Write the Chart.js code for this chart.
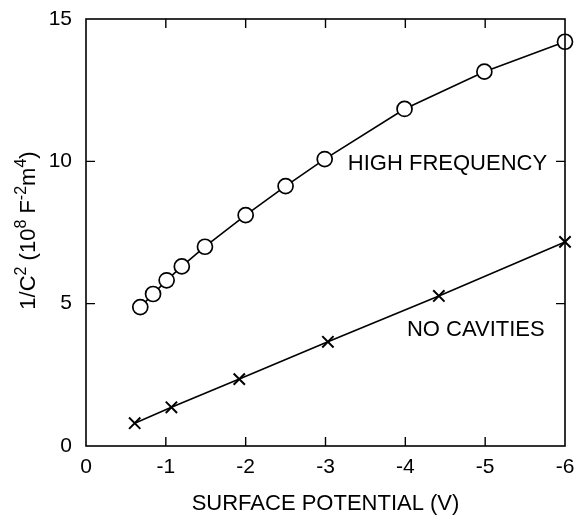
<!DOCTYPE html>
<html>
<head>
<meta charset="utf-8">
<script src="https://cdn.jsdelivr.net/npm/chart.js@4.4.0/dist/chart.umd.min.js"></script>
<style>
html,body{margin:0;padding:0;background:#fff;}
#wrap{width:575px;height:518px;position:relative;}
</style>
</head>
<body>
<div id="wrap"><canvas id="c"></canvas></div>
<script>
// ---- data ----
const hfX = [-0.68, -0.84, -1.01, -1.20, -1.49, -2.00, -2.50, -2.99, -3.99, -4.99, -6.00];
const hfY = [4.88, 5.34, 5.82, 6.31, 7.00, 8.11, 9.13, 10.08, 11.84, 13.15, 14.20];
const ncX = [-0.61, -1.07, -1.92, -3.03, -4.42, -6.00];
const ncY = [0.80, 1.36, 2.35, 3.66, 5.27, 7.17];
const xTicks = [0, -1, -2, -3, -4, -5, -6];
const yTicks = [0, 5, 10, 15];
const seriesNames = ['HIGH FREQUENCY', 'NO CAVITIES'];
const xTitle = 'SURFACE POTENTIAL (V)';
// y title parts: [text, isSuperscript]
const yTitleParts = [['1/C', false], ['2', true], [' (10', false], ['8', true], [' F', false], ['-2', true], ['m', false], ['4', true], [')', false]];
// label anchors in data coordinates (left edge, vertical middle)
const labelAnchors = [[-3.28, 9.92], [-4.02, 4.09]];

const FONT = "'Liberation Sans', Arial, Helvetica, sans-serif";

function pts(xs, ys){ return xs.map((x,i)=>({x:x, y:ys[i]})); }
function noPad(s){ s.paddingLeft = 0; s.paddingRight = 0; s.paddingTop = 0; s.paddingBottom = 0; }

const framePlugin = {
  id: 'frame',
  afterDatasetsDraw(chart){
    const {ctx, chartArea:a, scales:{x, y}} = chart;
    ctx.save();
    ctx.strokeStyle = '#000';
    ctx.lineWidth = 1.6;
    ctx.strokeRect(a.left, a.top, a.right - a.left, a.bottom - a.top);
    const tl = 9;
    ctx.lineWidth = 1.4;
    ctx.beginPath();
    xTicks.forEach(v=>{
      if (v === 0 || v === -6) return;
      const px = x.getPixelForValue(v);
      ctx.moveTo(px, a.bottom); ctx.lineTo(px, a.bottom - tl);
      ctx.moveTo(px, a.top); ctx.lineTo(px, a.top + tl);
    });
    yTicks.forEach(v=>{
      if (v === 0 || v === 15) return;
      const py = y.getPixelForValue(v);
      ctx.moveTo(a.left, py); ctx.lineTo(a.left + tl, py);
      ctx.moveTo(a.right, py); ctx.lineTo(a.right - tl, py);
    });
    ctx.stroke();
    ctx.restore();
  },
  afterDraw(chart){
    const {ctx, chartArea:a, scales:{x, y}} = chart;
    ctx.save();
    ctx.fillStyle = '#000';
    // series labels
    ctx.font = '22px ' + FONT;
    ctx.textBaseline = 'middle';
    ctx.textAlign = 'left';
    seriesNames.forEach((n,i)=>{
      ctx.fillText(n, x.getPixelForValue(labelAnchors[i][0]), y.getPixelForValue(labelAnchors[i][1]));
    });
    // y axis title with superscripts
    const mainF = '22px ' + FONT, supF = '16px ' + FONT;
    let total = 0;
    yTitleParts.forEach(p=>{ ctx.font = p[1] ? supF : mainF; total += ctx.measureText(p[0]).width; });
    const cy = (a.top + a.bottom) / 2 - 2;
    ctx.translate(27, cy);
    ctx.rotate(-Math.PI/2);
    let cx = -total/2;
    ctx.textBaseline = 'alphabetic';
    yTitleParts.forEach(p=>{
      ctx.font = p[1] ? supF : mainF;
      ctx.fillText(p[0], cx, p[1] ? -1 : 8);
      cx += ctx.measureText(p[0]).width;
    });
    ctx.restore();
  }
};

new Chart(document.getElementById('c'), {
  type: 'scatter',
  data: {
    datasets: [
      {
        label: seriesNames[0],
        data: pts(hfX, hfY),
        showLine: true,
        borderColor: '#000',
        borderWidth: 1.6,
        pointStyle: 'circle',
        pointRadius: 7.5,
        pointBorderWidth: 1.7,
        pointBackgroundColor: '#fff',
        pointBorderColor: '#000',
        clip: false,
        tension: 0
      },
      {
        label: seriesNames[1],
        data: pts(ncX, ncY),
        showLine: true,
        borderColor: '#000',
        borderWidth: 1.6,
        pointStyle: 'crossRot',
        pointRadius: 8,
        pointBorderWidth: 2,
        pointBackgroundColor: '#000',
        pointBorderColor: '#000',
        clip: false,
        tension: 0
      }
    ]
  },
  options: {
    responsive: true,
    maintainAspectRatio: false,
    animation: false,
    events: [],
    layout: { padding: { left: 0, right: 10, top: 19, bottom: 0 } },
    plugins: { legend: { display: false }, tooltip: { enabled: false } },
    scales: {
      x: {
        type: 'linear',
        min: -6, max: 0,
        reverse: true,
        afterBuildTicks(s){ s.ticks = xTicks.map(v=>({value:v})); },
        afterFit(s){ s.height = 72; noPad(s); },
        grid: { display: false, drawTicks: false },
        border: { display: false },
        ticks: { color: '#000', font: { family: FONT, size: 21 }, padding: 9, maxRotation: 0, callback: v => String(v) },
        title: { display: true, text: xTitle, color: '#000', font: { family: FONT, size: 22 }, padding: { top: 0, bottom: 1 } }
      },
      y: {
        type: 'linear',
        min: 0, max: 15,
        afterBuildTicks(s){ s.ticks = yTicks.map(v=>({value:v})); },
        afterFit(s){ s.width = 86; noPad(s); },
        grid: { display: false, drawTicks: false },
        border: { display: false },
        ticks: { color: '#000', font: { family: FONT, size: 21 }, padding: 14, callback: v => String(v) }
      }
    }
  },
  plugins: [framePlugin]
});
</script>
</body>
</html>
